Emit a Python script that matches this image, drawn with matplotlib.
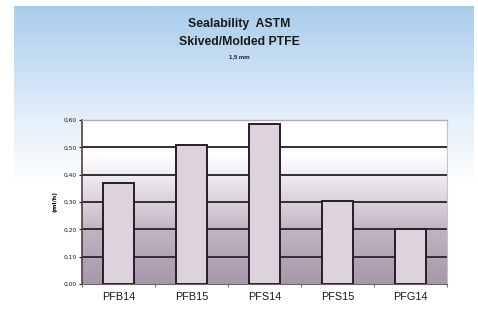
import numpy as np
import matplotlib
matplotlib.use('Agg')
import matplotlib.pyplot as plt
from matplotlib.colors import LinearSegmentedColormap

# data
categories = ['PFB14', 'PFB15', 'PFS14', 'PFS15', 'PFG14']
leak_rate = [0.37, 0.51, 0.585, 0.305, 0.20]
y_ticks = [0.0, 0.1, 0.2, 0.3, 0.4, 0.5, 0.6]
y_tick_labels = ['0,00', '0,10', '0,20', '0,30', '0,40', '0,50', '0,60']

colors = {'edge': '#2b1c26', 'bar': '#dcd3dd', 'grid': '#3b2a33', 'text': '#1a1a1a'}

fig = plt.figure(figsize=(4.78, 3.12), dpi=100)
fig.patch.set_facecolor('white')

# blue panel behind everything
bg = fig.add_axes([14 / 478, 8 / 312, 460 / 478, 298 / 312])
sky = LinearSegmentedColormap.from_list(
    'sky', [(0, '#ffffff'), (0.4, '#ffffff'), (0.62, '#e4f0fa'), (1, '#a9ccec')])
grad = np.linspace(0, 1, 256).reshape(-1, 1)
bg.imshow(grad, cmap=sky, aspect='auto', origin='lower', extent=[0, 1, 0, 1])
bg.set_axis_off()

fig.text(0.5, 0.924, 'Sealability  ASTM', ha='center', va='center', family='Liberation Sans',
         fontsize=8.8, fontweight='bold', color=colors['text'])
fig.text(0.5, 0.866, 'Skived/Molded PTFE', ha='center', va='center', family='Liberation Sans',
         fontsize=8.8, fontweight='bold', color=colors['text'])
fig.text(0.5, 0.817, '1,5 mm', ha='center', va='center', family='Liberation Sans',
         fontsize=4.3, fontweight='bold', color=colors['text'])

ax = fig.add_axes([82 / 478, 1 - 284 / 312, 365 / 478, 164 / 312])
x = np.arange(len(categories))

# plot area fill: white at top to grey-purple at bottom
shade = LinearSegmentedColormap.from_list(
    'shade', [(0, '#a598aa'), (0.33, '#bfb5c2'), (0.5, '#d9d2db'),
              (0.68, '#f1eff3'), (0.8, '#ffffff'), (1, '#ffffff')])
ax.imshow(grad, cmap=shade, aspect='auto', origin='lower',
          extent=[-0.5, len(categories) - 0.5, 0, 0.6], zorder=0)

for t in y_ticks[1:-1]:
    ax.axhline(t, color=colors['grid'], linewidth=1.4, zorder=1)

ax.bar(x, leak_rate, width=0.43, color=colors['bar'], edgecolor=colors['edge'],
       linewidth=1.4, zorder=2)

ax.set_xlim(-0.5, len(categories) - 0.5)
ax.set_ylim(0, 0.6)
ax.set_yticks(y_ticks)
ax.set_yticklabels(y_tick_labels)
ax.set_xticks(x)
ax.set_xticklabels(categories, family='Liberation Sans')
ax.set_xticks(np.arange(len(categories) + 1) - 0.5, minor=True)
ax.tick_params(axis='x', which='major', length=0, labelsize=7.8, pad=6, colors=colors['text'])
ax.tick_params(axis='x', which='minor', length=2, color='#555555')
ax.tick_params(axis='y', length=2, labelsize=4.3, pad=2, colors=colors['text'])
ax.set_ylabel('(ml/h)', fontsize=4.5, fontweight='bold', labelpad=4)

ax.spines['top'].set_color('#b8a9ad')
ax.spines['right'].set_color('#c8c0c6')
ax.spines['top'].set_linewidth(1.0)
ax.spines['left'].set_color('#5a3a40')
ax.spines['bottom'].set_color('#666666')
ax.spines['left'].set_linewidth(1.2)

fig.savefig('out.png', dpi=100)
